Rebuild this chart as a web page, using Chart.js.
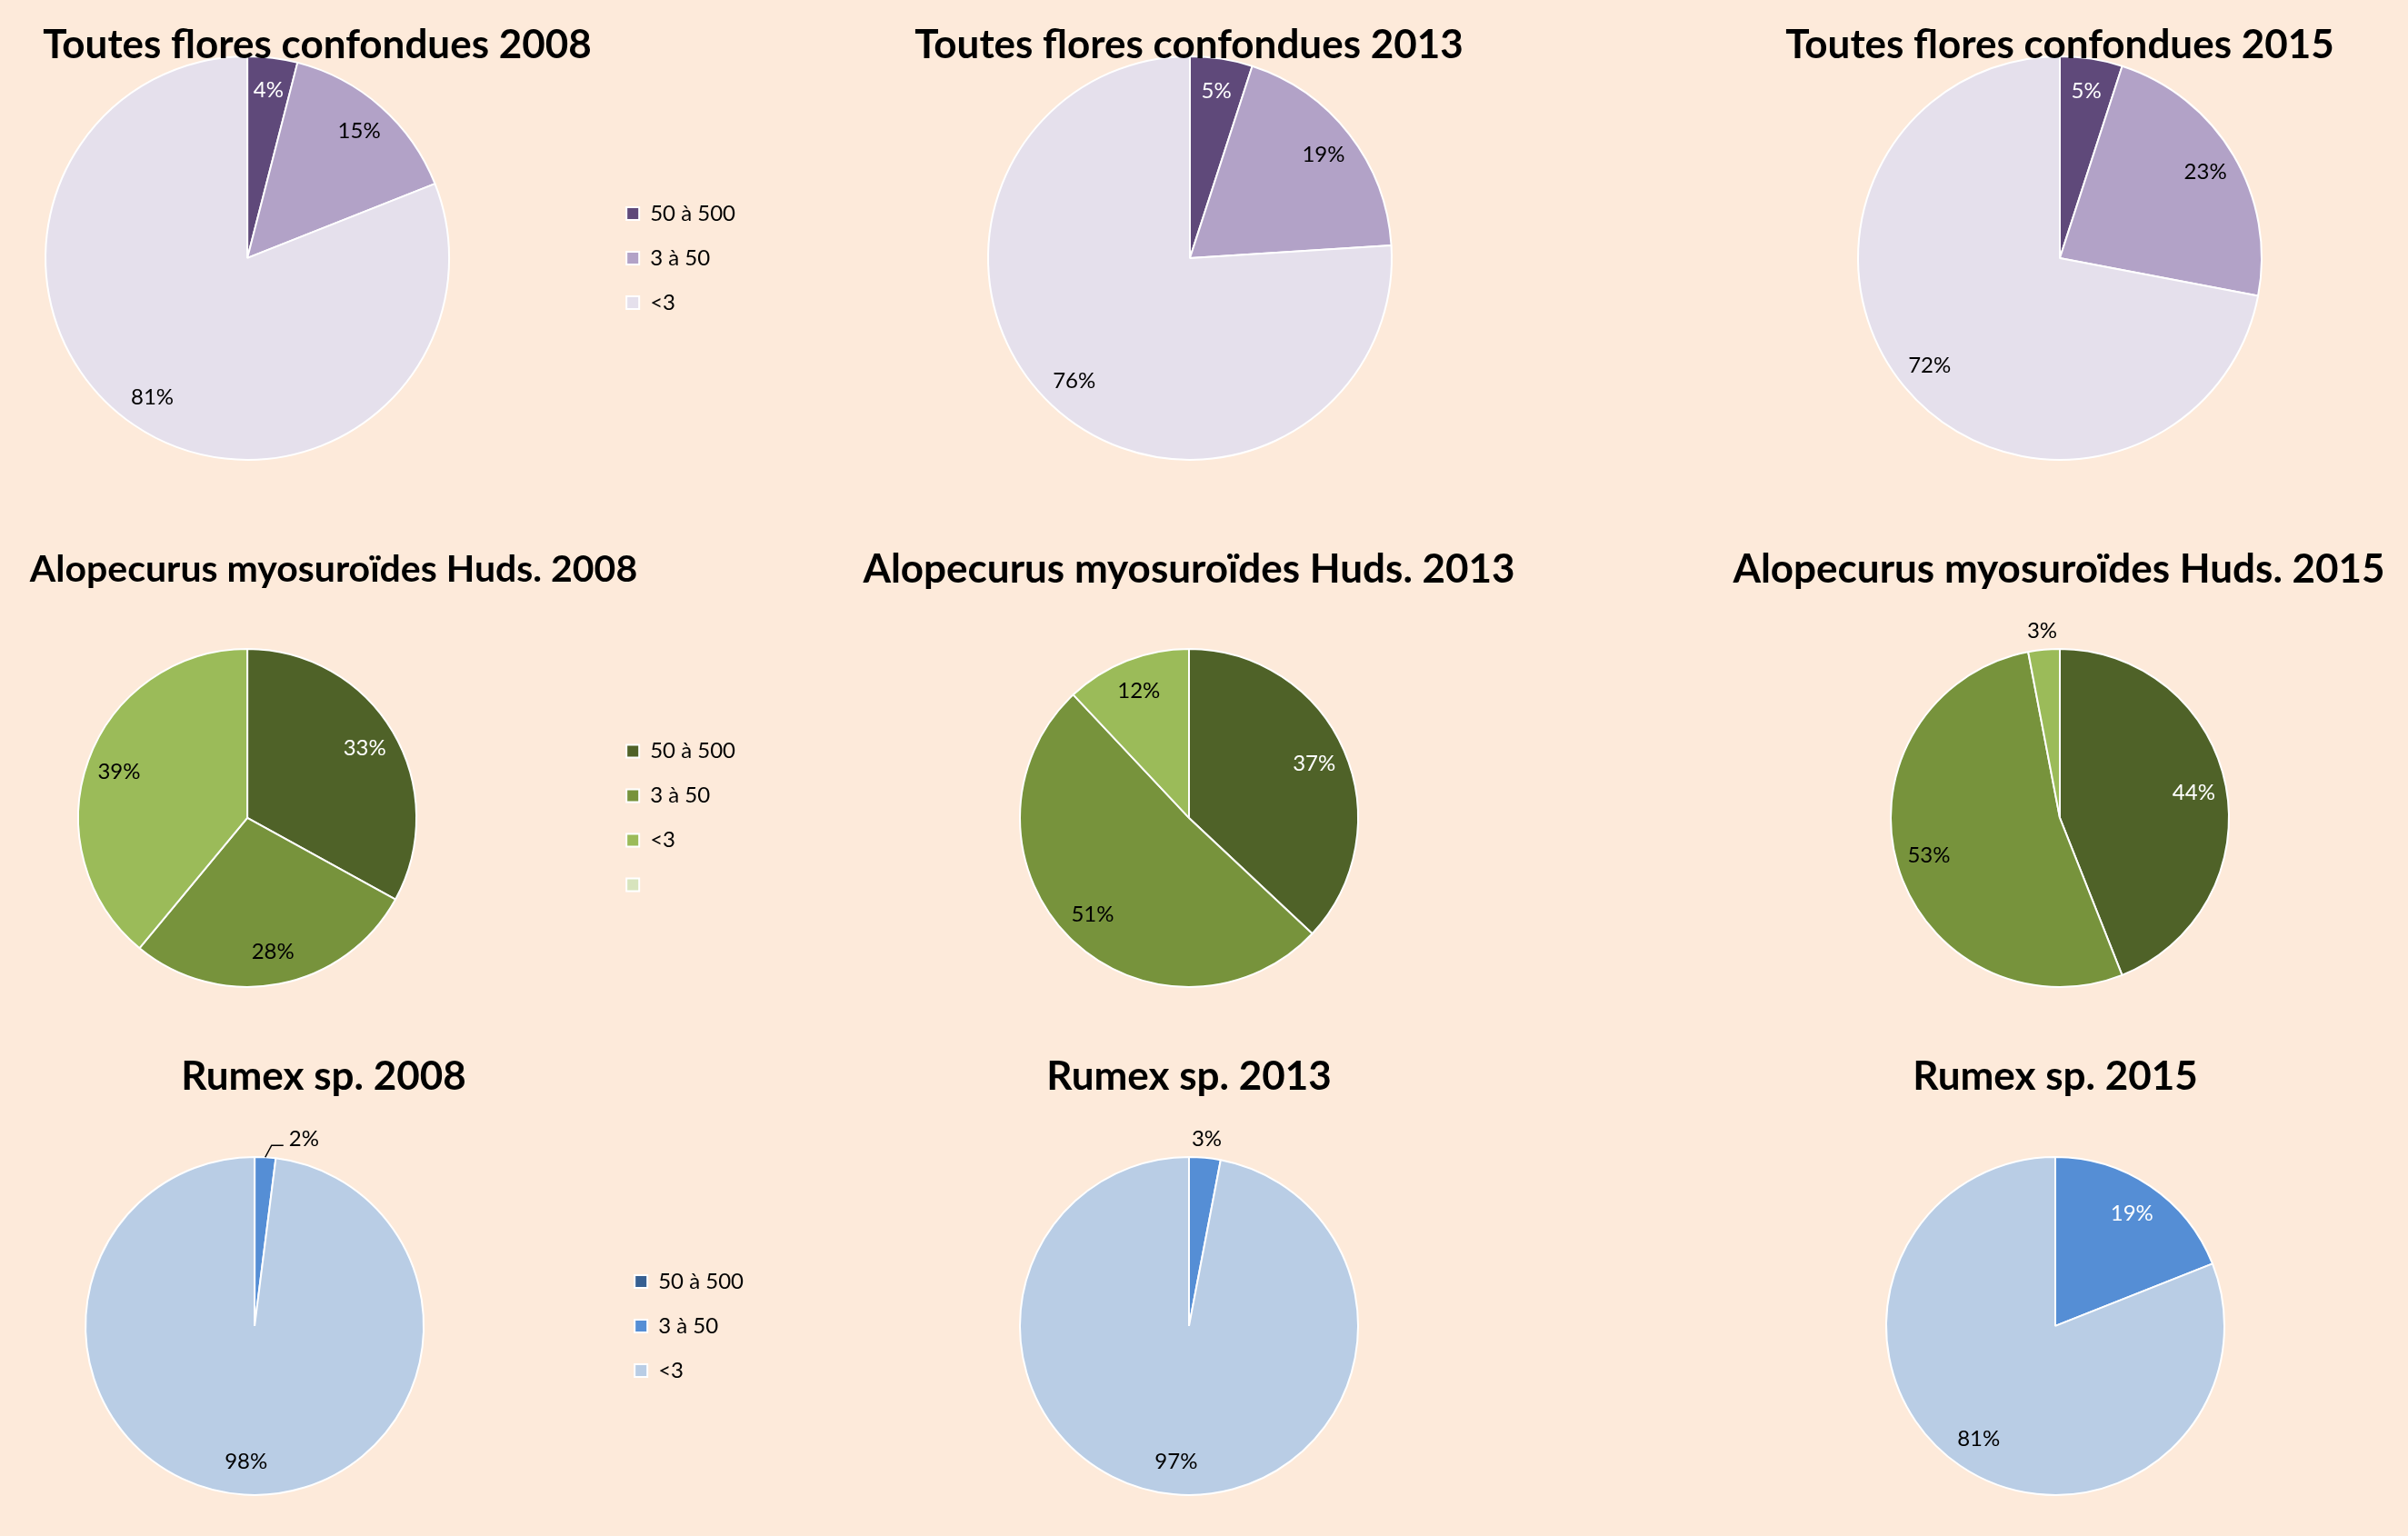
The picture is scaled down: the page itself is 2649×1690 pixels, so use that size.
<!DOCTYPE html>
<html lang="fr">
<head>
  <meta charset="UTF-8">
  <title>Répartition des densités</title>
  <script src="https://cdn.jsdelivr.net/npm/chart.js"></script>
  <style>
    html, body {
      margin: 0;
      padding: 0;
      background: #fdeada;
      overflow: hidden;
    }
    #board {
      position: relative;
      width: 2649px;
      height: 1690px;
    }
    #board canvas {
      position: absolute;
    }
  </style>
</head>
<body>
<div id="board"></div>

<script>
  // categories (density classes)
  const classes = ['50 à 500', '3 à 50', '<3'];
  const classesAlopecurus = ['50 à 500', '3 à 50', '<3', ''];

  // values in %
  const flores2008 = [4, 15, 81];
  const flores2013 = [5, 19, 76];
  const flores2015 = [5, 23, 72];
  const alopecurus2008 = [33, 28, 39, 0];
  const alopecurus2013 = [37, 51, 12, 0];
  const alopecurus2015 = [44, 53, 3, 0];
  const rumex2008 = [0, 2, 98];
  const rumex2013 = [0, 3, 97];
  const rumex2015 = [0, 19, 81];

  const purples = ['#5f497a', '#b2a2c7', '#e5e0ec'];
  const greens = ['#4f6228', '#77933c', '#9bbb59', '#d7e4bd'];
  const blues = ['#376092', '#558ed5', '#b9cde5'];

  const FONT = 'Lato, "Open Sans", sans-serif';
  Chart.defaults.font.family = FONT;
  Chart.defaults.color = '#000';

  // geometry of the 3x3 grid
  const rows = [
    { titleMid: 49.5, titleX: [349, 1308, 2266], cy: 284, r: 222, cx: [272, 1309, 2266], legendX: 689 },
    { titleMid: 626.5, titleX: [367, 1308, 2265], cy: 900, r: 186, cx: [272, 1308, 2266], legendX: 689 },
    { titleMid: 1184.5, titleX: [356, 1308, 2261], cy: 1459, r: 186, cx: [280, 1308, 2261], legendX: 698 }
  ];
  const TITLE_SIZE = 44, TITLE_PAD = 10;
  const LEG_PAD = 25, LEG_SPARE = 40;

  const charts = [
    [
      { title: 'Toutes flores confondues 2008', labels: classes, data: flores2008, colors: purples, legend: true },
      { title: 'Toutes flores confondues 2013', labels: classes, data: flores2013, colors: purples },
      { title: 'Toutes flores confondues 2015', labels: classes, data: flores2015, colors: purples }
    ],
    [
      { title: 'Alopecurus myosuroïdes Huds. 2008', labels: classesAlopecurus, data: alopecurus2008, colors: greens, legend: true, titleSize: 41 },
      { title: 'Alopecurus myosuroïdes Huds. 2013', labels: classesAlopecurus, data: alopecurus2013, colors: greens },
      { title: 'Alopecurus myosuroïdes Huds. 2015', labels: classesAlopecurus, data: alopecurus2015, colors: greens }
    ],
    [
      { title: 'Rumex sp. 2008', labels: classes, data: rumex2008, colors: blues, legend: true },
      { title: 'Rumex sp. 2013', labels: classes, data: rumex2013, colors: blues },
      { title: 'Rumex sp. 2015', labels: classes, data: rumex2015, colors: blues }
    ]
  ];

  // text colour inside each slice
  const labelInk = {
    purple: ['#fff', '#000', '#000'],
    green: ['#fff', '#000', '#000', '#000'],
    blue: ['#fff', '#fff', '#000']
  };

  // chart title, drawn over the pie like in Excel
  const chartTitle = {
    id: 'chartTitle',
    afterDraw(chart, args, opts) {
      const ctx = chart.ctx;
      ctx.save();
      ctx.font = 'bold ' + opts.size + 'px ' + FONT;
      ctx.fillStyle = '#000';
      ctx.textAlign = 'center';
      ctx.textBaseline = 'middle';
      ctx.fillText(opts.text, opts.x, opts.y);
      ctx.restore();
    }
  };

  // percentage labels, Excel style
  const pctLabels = {
    id: 'pctLabels',
    afterDatasetsDraw(chart) {
      const ctx = chart.ctx;
      const ds = chart.data.datasets[0];
      const meta = chart.getDatasetMeta(0);
      ctx.save();
      ctx.font = '24px ' + FONT;
      ctx.textBaseline = 'middle';
      meta.data.forEach((arc, i) => {
        const v = ds.data[i];
        if (!v) return;
        const p = arc.getProps(['x', 'y', 'startAngle', 'endAngle', 'outerRadius'], true);
        const mid = (p.startAngle + p.endAngle) / 2;
        const cos = Math.cos(mid), sin = Math.sin(mid);
        const text = v + '%';
        if (v >= 4) {
          const d = p.outerRadius - 36;
          ctx.fillStyle = ds.ink[i];
          ctx.textAlign = 'center';
          ctx.fillText(text, p.x + cos * d, p.y + sin * d);
        } else if (v >= 2.5) {
          const d = p.outerRadius + 21;
          ctx.fillStyle = '#000';
          ctx.textAlign = 'center';
          ctx.fillText(text, p.x + cos * d, p.y + sin * d);
        } else {
          // small slice: label outside with a leader line
          const x0 = p.x + cos * p.outerRadius, y0 = p.y + sin * p.outerRadius;
          const x1 = x0 + 7, y1 = y0 - 13;
          const x2 = x1 + 13;
          ctx.strokeStyle = '#000';
          ctx.lineWidth = 1.5;
          ctx.beginPath();
          ctx.moveTo(x0, y0);
          ctx.lineTo(x1, y1);
          ctx.lineTo(x2, y1);
          ctx.stroke();
          ctx.fillStyle = '#000';
          ctx.textAlign = 'left';
          ctx.fillText(text, x2 + 6, y1 - 7);
        }
      });
      ctx.restore();
    }
  };

  const board = document.getElementById('board');

  function sizeCanvas(canvas, left, top, width, height) {
    canvas.width = width;
    canvas.height = height;
    canvas.style.left = left + 'px';
    canvas.style.top = top + 'px';
    canvas.style.width = width + 'px';
    canvas.style.height = height + 'px';
  }

  charts.forEach((row, ri) => {
    const g = rows[ri];
    row.forEach((c, ci) => {
      const cx = g.cx[ci];
      const top = g.titleMid - TITLE_PAD - TITLE_SIZE * 0.6;
      const padTop = TITLE_PAD + TITLE_SIZE * 1.2;
      const chartTop = top + padTop;
      const chartBottom = 2 * g.cy - chartTop;
      const height = Math.round(Math.max(chartBottom, g.cy + g.r + 8) - top);
      const padBottom = height - (chartBottom - top);

      let left, width, padRight = 0, caL = 0, caR = 0;
      if (c.legend) {
        caR = g.legendX - LEG_PAD;
        caL = 2 * cx - caR;
        left = caL;
        padRight = LEG_SPARE;
        width = Math.round(caR - caL + 160 + padRight);
      } else {
        width = 780;
        left = cx - width / 2;
      }

      const canvas = document.createElement('canvas');
      sizeCanvas(canvas, left, top, width, height);
      board.appendChild(canvas);

      const ink = c.colors === purples ? labelInk.purple : (c.colors === greens ? labelInk.green : labelInk.blue);

      const config = () => ({
        type: 'pie',
        data: {
          labels: c.labels,
          datasets: [{
            data: c.data,
            backgroundColor: c.colors,
            borderColor: '#ffffff',
            borderWidth: 2,
            radius: g.r,
            clip: false,
            ink: ink
          }]
        },
        options: {
          responsive: false,
          animation: false,
          events: [],
          layout: { padding: { top: padTop, left: 0, right: padRight, bottom: padBottom } },
          plugins: {
            chartTitle: { text: c.title, x: g.titleX[ci] - left, y: g.titleMid - top, size: c.titleSize || TITLE_SIZE },
            title: { display: false },
            legend: c.legend ? {
              display: true,
              position: 'right',
              align: 'center',
              labels: {
                boxWidth: 14,
                boxHeight: 14,
                padding: LEG_PAD,
                color: '#000',
                font: { size: 24 }
              }
            } : { display: false },
            tooltip: { enabled: false }
          }
        },
        plugins: [pctLabels, chartTitle]
      });

      let chart = new Chart(canvas, config());

      // rebuild with the real legend width so the pie stays centred on cx
      if (c.legend) {
        const legW = chart.legend && isFinite(chart.legend.width) ? chart.legend.width : 160;
        const fitW = Math.round(caR - caL + legW + padRight);
        if (fitW !== width) {
          chart.destroy();
          sizeCanvas(canvas, left, top, fitW, height);
          chart = new Chart(canvas, config());
        }
      }
    });
  });
</script>
</body>
</html>
